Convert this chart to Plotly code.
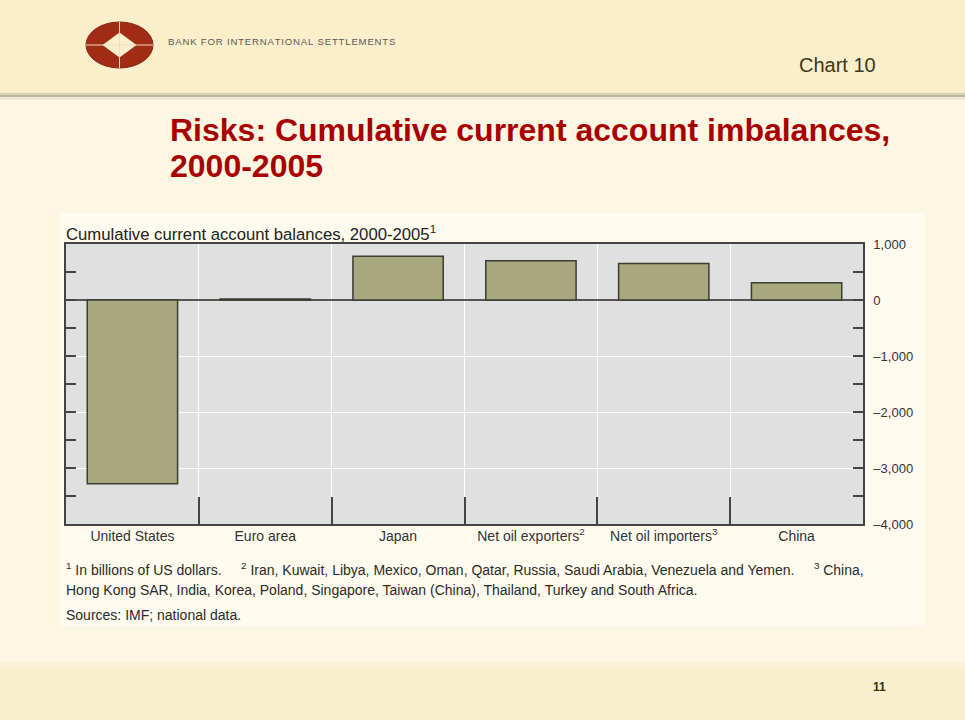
import plotly.graph_objects as go

# ---- data ----
categories = ["United States", "Euro area", "Japan",
              "Net oil exporters<sup>2</sup>", "Net oil importers<sup>3</sup>", "China"]
values = [-3280, 20, 780, 700, 650, 310]
y_tickvals = [1000, 0, -1000, -2000, -3000, -4000]
y_ticktext = ["1,000", "0", "\u20131,000", "\u20132,000", "\u20133,000", "\u20134,000"]

W, H = 965, 720
L, R, T, B = 66, 863, 244, 524

def px(x):
    return (x - L) / (R - L)

def py(y):
    return (B - y) / (B - T)

FONT = "Liberation Sans, Arial, sans-serif"

fig = go.Figure()
xs = list(range(len(categories)))
fig.add_trace(go.Bar(
    x=xs, y=values, width=0.68,
    marker=dict(color="#a8a87e", line=dict(color="#3c3c30", width=1.5)),
    hoverinfo="skip",
))

shapes = []
# top band
shapes.append(dict(type="rect", xref="paper", yref="paper", layer="below",
                   x0=px(0), x1=px(W), y0=py(0), y1=py(93),
                   fillcolor="#faeecb", line=dict(width=0)))
# separator
shapes.append(dict(type="line", xref="paper", yref="paper", layer="below",
                   x0=px(0), x1=px(W), y0=py(94), y1=py(94),
                   line=dict(color="#d8d0b4", width=2)))
shapes.append(dict(type="line", xref="paper", yref="paper", layer="below",
                   x0=px(0), x1=px(W), y0=py(96), y1=py(96),
                   line=dict(color="#bcb49c", width=2)))
shapes.append(dict(type="line", xref="paper", yref="paper", layer="below",
                   x0=px(0), x1=px(W), y0=py(98.5), y1=py(98.5),
                   line=dict(color="#e8e2cc", width=2)))
# chart panel
shapes.append(dict(type="rect", xref="paper", yref="paper", layer="below",
                   x0=px(60), x1=px(925), y0=py(213), y1=py(626),
                   fillcolor="#fffbef", line=dict(width=0)))
# plot area background
shapes.append(dict(type="rect", xref="paper", yref="paper", layer="below",
                   x0=0, x1=1, y0=0, y1=1,
                   fillcolor="#e0e0e0", line=dict(width=0)))
# bottom band
shapes.append(dict(type="rect", xref="paper", yref="paper", layer="below",
                   x0=px(0), x1=px(W), y0=py(666), y1=py(H),
                   fillcolor="#faefcd", line=dict(width=0)))
shapes.append(dict(type="rect", xref="paper", yref="paper", layer="below",
                   x0=px(0), x1=px(W), y0=py(662), y1=py(667),
                   fillcolor="#fcf2d8", line=dict(width=0)))
# logo
cx, cy, rx, ry = 119.5, 45, 33.5, 23
shapes.append(dict(type="circle", xref="paper", yref="paper", layer="above",
                   x0=px(cx - rx), x1=px(cx + rx), y0=py(cy - ry), y1=py(cy + ry),
                   fillcolor="#a02c16", line=dict(color="#8a2410", width=1)))
dx, dy = 17, 12.5
path = "M {},{} L {},{} L {},{} L {},{} Z".format(
    px(cx - dx), py(cy), px(cx), py(cy - dy), px(cx + dx), py(cy), px(cx), py(cy + dy))
shapes.append(dict(type="path", xref="paper", yref="paper", layer="above",
                   path=path, fillcolor="#faeecb", line=dict(width=0)))
shapes.append(dict(type="line", xref="paper", yref="paper", layer="above",
                   x0=px(cx - rx), x1=px(cx + rx), y0=py(cy), y1=py(cy),
                   line=dict(color="#f0dcc0", width=1)))
shapes.append(dict(type="line", xref="paper", yref="paper", layer="above",
                   x0=px(cx), x1=px(cx), y0=py(cy - ry), y1=py(cy + ry),
                   line=dict(color="#f0dcc0", width=1)))

def ann(x, y, text, size, color, xanchor="left", yanchor="middle", bold=False, family=FONT):
    if bold:
        text = "<b>" + text + "</b>"
    return dict(x=px(x), y=py(y), xref="paper", yref="paper", text=text,
                showarrow=False, xanchor=xanchor, yanchor=yanchor, align="left",
                font=dict(size=size, color=color, family=family))

bank = "\u200a".join("BANK FOR INTERNATIONAL SETTLEMENTS")
annotations = [
    ann(166, 42, bank, 9.6, "#5a5a50"),
    ann(797, 65, "Chart 10", 20, "#3a3a18"),
    ann(168, 130, "Risks: Cumulative current account imbalances,", 32, "#a80000", bold=True),
    ann(168, 166, "2000-2005", 32, "#a80000", bold=True),
    ann(64, 233, "Cumulative current account balances, 2000-2005<sup>1</sup>", 16.7, "#222222"),
    ann(64, 569, "<sup>1</sup> In billions of US dollars.     <sup>2</sup> Iran, Kuwait, Libya, Mexico, Oman, Qatar, Russia, Saudi Arabia, Venezuela and Yemen.     <sup>3</sup> China,",
        14, "#2a2a2a"),
    ann(64, 590, "Hong Kong SAR, India, Korea, Poland, Singapore, Taiwan (China), Thailand, Turkey and South Africa.",
        14, "#2a2a2a"),
    ann(64, 615, "Sources: IMF; national data.", 14, "#2a2a2a"),
    ann(880, 687, "11", 12, "#333300", xanchor="center", bold=True),
]

fig.update_layout(
    width=W, height=H,
    margin=dict(l=L, r=W - R, t=T, b=H - B, pad=0),
    paper_bgcolor="#fcf6e3",
    plot_bgcolor="#e0e0e0",
    showlegend=False,
    shapes=shapes,
    annotations=annotations,
    font=dict(family=FONT, color="#333333", size=12),
    xaxis=dict(
        range=[-0.5, len(categories) - 0.5],
        tickmode="array", tickvals=xs, ticktext=categories,
        ticks="", showgrid=False, zeroline=False,
        showline=True, linecolor="#444444", linewidth=1.5, mirror=True,
        tickfont=dict(size=14, color="#333333"),
        ticklabelstandoff=-2,
        minor=dict(tickmode="array", tickvals=[i + 0.5 for i in xs[:-1]],
                   ticks="inside", ticklen=27, tickcolor="#444444", tickwidth=1.5,
                   showgrid=True, gridcolor="#ffffff", gridwidth=1),
        fixedrange=True,
    ),
    yaxis=dict(
        range=[-4000, 1000], side="right",
        tickmode="array", tickvals=y_tickvals, ticktext=y_ticktext,
        ticks="inside", ticklen=10, tickcolor="#444444", tickwidth=1.5,
        showline=True, linecolor="#444444", linewidth=1.5, mirror="ticks",
        showgrid=True, gridcolor="#ffffff", gridwidth=1,
        zeroline=True, zerolinecolor="#555555", zerolinewidth=1.5,
        tickfont=dict(size=13, color="#333333"),
        ticklabelstandoff=6,
        minor=dict(dtick=500, tick0=0, ticks="inside", ticklen=10,
                   tickcolor="#444444", tickwidth=1.5, showgrid=False),
        fixedrange=True,
    ),
)

fig.write_html("out.html")
